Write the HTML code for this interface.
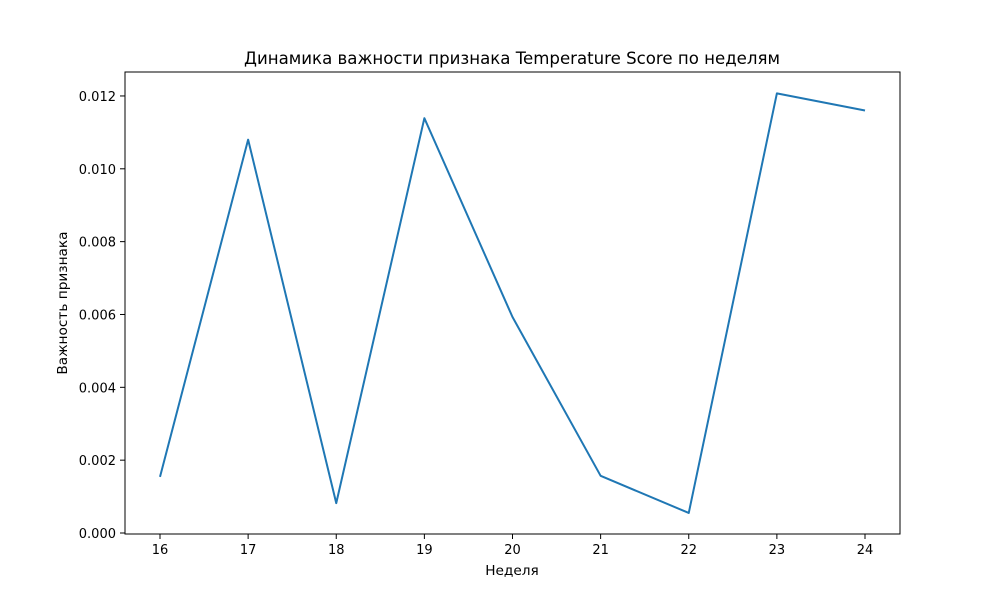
<!DOCTYPE html>
<html><head><meta charset="utf-8">
<style>
body{margin:0;background:#fff;}
svg{display:block;font-family:"DejaVu Sans","Liberation Sans",sans-serif;}
</style></head>
<body>
<svg id="chart" width="1000" height="600" viewBox="0 0 1000 600">
<rect width="1000" height="600" fill="#fff"/>
<text x="512" y="64" text-anchor="middle" font-size="16.6" fill="#000">Динамика важности признака Temperature Score по неделям</text>
<g id="ticks"></g>
<polyline id="line" fill="none" stroke="#1f77b4" stroke-width="2" stroke-linejoin="round"/>
<rect x="125" y="72" width="775" height="462" fill="none" stroke="#000" stroke-width="1"/>
<text x="512" y="575" text-anchor="middle" font-size="13.7">Неделя</text>
<text transform="translate(67,303) rotate(-90)" text-anchor="middle" font-size="13.7">Важность признака</text>
</svg>
<script>
const weeks=[16,17,18,19,20,21,22,23,24];
const importance=[0.00154,0.01080,0.00082,0.01139,0.00593,0.00157,0.00055,0.01207,0.01160];
const yTicks=[0,0.002,0.004,0.006,0.008,0.010,0.012];
const yTickLabels=["0.000","0.002","0.004","0.006","0.008","0.010","0.012"];
const ns="http://www.w3.org/2000/svg";
const xs=v=>160+(v-16)*88.125;
const ys=v=>533-v*36420;
const g=document.getElementById('ticks');
function mk(t,a){const e=document.createElementNS(ns,t);for(const k in a)e.setAttribute(k,a[k]);return e;}
weeks.forEach(w=>{
  const l=mk('line',{x1:xs(w),x2:xs(w),y1:534,y2:539,stroke:'#000'});
  
  
  g.appendChild(l);
  const t=mk('text',{x:xs(w),y:554,'text-anchor':'middle','font-size':'13'});
  t.textContent=w;
  
  
  g.appendChild(t);
});
yTicks.forEach((v,i)=>{
  const l=mk('line',{x1:120,x2:125,y1:ys(v),y2:ys(v),stroke:'#000'});
  
  
  g.appendChild(l);
  const t=mk('text',{x:116,y:ys(v)+5,'text-anchor':'end','font-size':'13'});
  t.textContent=yTickLabels[i];
  
  
  g.appendChild(t);
});
document.getElementById('line').setAttribute('points',weeks.map((w,i)=>xs(w)+','+ys(importance[i])).join(' '));
</script>
</body></html>
